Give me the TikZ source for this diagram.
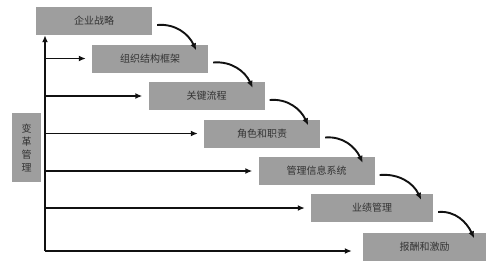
\documentclass[tikz,border=0pt]{standalone}
\usepackage{fontspec}
\newfontfamily\cjk{Noto Sans CJK SC}
\usetikzlibrary{arrows.meta,positioning,calc}
\definecolor{cBox}{HTML}{9E9E9E}
\definecolor{cText}{HTML}{333333}
\definecolor{cInk}{HTML}{111111}
\tikzset{
  stage/.style={draw=none, fill=cBox, text=cText, font=\cjk\fontsize{10}{11}\selectfont, minimum width=116pt, minimum height=28pt, inner sep=2pt},
  side/.style={draw=none, fill=cBox, text=cText, font=\cjk\fontsize{10}{13}\selectfont, align=center, minimum width=29pt, minimum height=69pt, inner sep=1pt},
  flow/.style={-{Latex[length=7pt,width=6pt]}, line width=1.9pt, draw=cInk},
  swoop/.style={-{Latex[length=7pt,width=6pt]}, line width=1.9pt, draw=cInk, out=5, in=115},
}

\begin{document}
\begin{tikzpicture}[x=1pt, y=-1pt]
\useasboundingbox (0,0) rectangle (498,269);
% stages
\node[stage] (s1) at (94,21) {企业战略};
\node[stage] (s2) at (150,58.5) {组织结构框架};
\node[stage] (s3) at (206.5,96) {关键流程};
\node[stage] (s4) at (262,133.5) {角色和职责};
\node[stage] (s5) at (316.5,171) {管理信息系统};
\node[stage, minimum width=122pt] (s6) at (372,208) {业绩管理};
\node[stage, minimum width=123pt] (s7) at (424.5,246.5) {报酬和激励};
% side label
\node[side] (cm) at (26.5,147.5) {变\\革\\管\\理};
% bus
\coordinate (base) at (45,251);
\draw[flow] (base) -- (base |- s1.south);
\foreach \n in {s2,s3,s4,s5,s6} \draw[flow] (base |- \n) -- ([xshift=-6pt]\n.west);
\draw[flow] (base) -- ([xshift=-11pt]s7.west |- base);
% curved steps
\foreach \a/\b in {s1/s2,s2/s3,s3/s4,s4/s5,s5/s6,s6/s7}
  \draw[swoop] ([xshift=5pt,yshift=-4pt]\a.east) to ([xshift=-12pt,yshift=-6pt]\b.north east);
\end{tikzpicture}
\end{document}
